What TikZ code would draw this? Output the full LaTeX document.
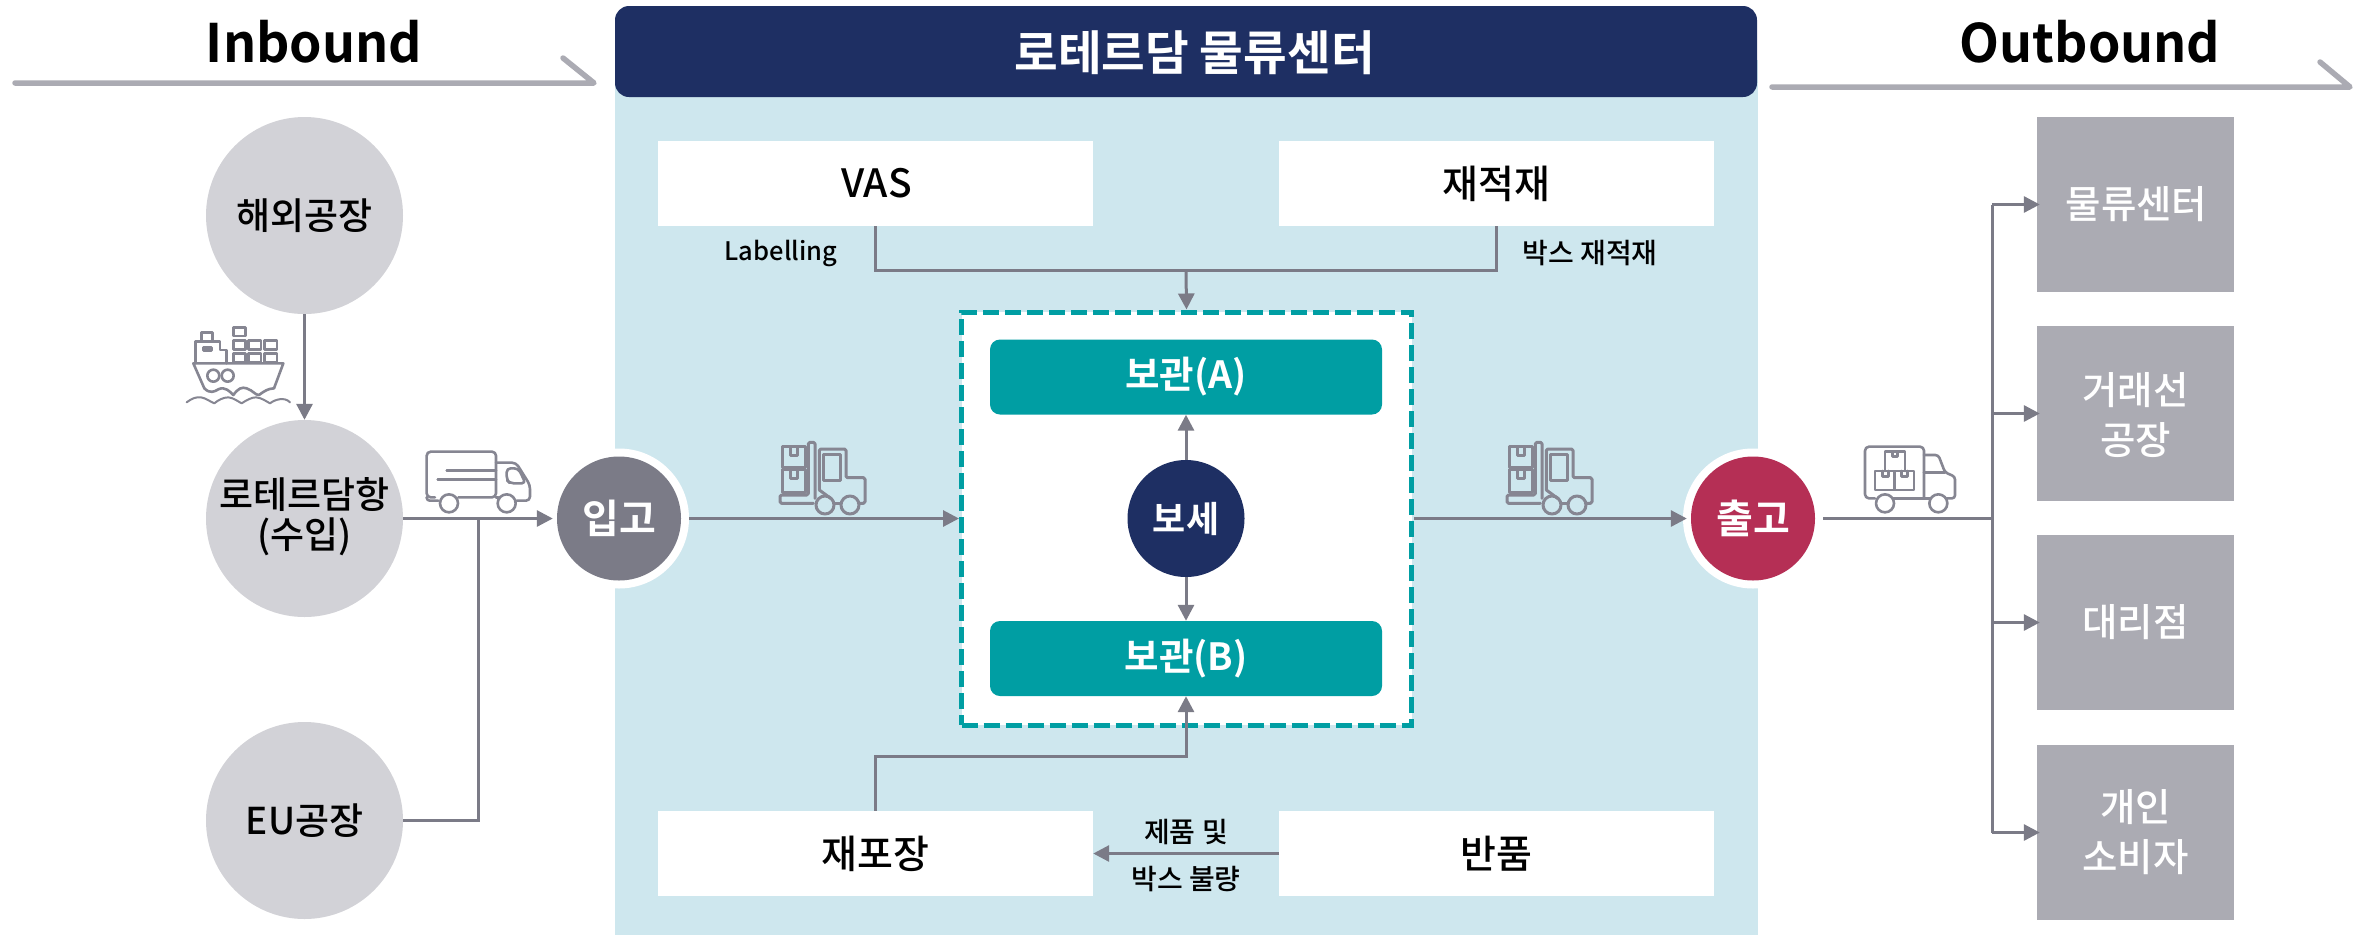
\documentclass[tikz,border=0pt]{standalone}
\usepackage{fontspec}
\setmainfont{Noto Sans CJK KR Medium}[BoldFont={Noto Sans CJK KR Bold}]
\newfontfamily\headfont{Noto Sans CJK KR Bold}[FakeStretch=0.98]
\usetikzlibrary{arrows.meta}
\definecolor{lineg}{HTML}{7B7B87}
\definecolor{icong}{HTML}{868692}
\definecolor{headg}{HTML}{ABABB3}
\definecolor{circg}{HTML}{D2D2D7}
\definecolor{navy}{HTML}{1E2F63}
\definecolor{sky}{HTML}{CEE7EE}
\definecolor{teal2}{HTML}{009EA3}
\definecolor{crim}{HTML}{B52F55}
\newcommand{\fs}[1]{\fontsize{#1}{#1}\selectfont}
% #1 = extra height declared above the text (moves it down by half), #2 = extra line gap
\newcommand{\twolines}[4]{\raisebox{0pt}[\dimexpr\height+#1\relax][\depth]{\begin{tabular}{@{}c@{}}#3\\[#2]#4\end{tabular}}}
\newcommand{\forkicon}{%
  \draw (38,35) rectangle (105,98);
  \draw (60,35)--(60,60)--(82,60)--(82,35);
  \draw (38,102) rectangle (105,172);
  \draw (60,102)--(60,130)--(82,130)--(82,102);
  \draw[rounded corners=1.5pt] (135,190)--(135,22)--(115,22)--(115,180)--(30,180)--(30,205)--(130,205);
  \draw[rounded corners=1.5pt] (148,165)--(148,42)--(228,42)--(228,128)--(285,128)--(285,205)--(265,205);
  \draw (160,58) rectangle (212,135);
  \draw (148,165)--(182,190);
  \draw (192,205)--(213,205);
  \draw (165,210) circle[radius=27];
  \draw (240,210) circle[radius=27];
}
\tikzset{
  x=1pt,y=-1pt,
  conn/.style={draw=lineg,line width=3pt},
  arr/.style={conn,-{Triangle[length=16pt,width=16pt]}},
  headline/.style={draw=headg,line width=5.5pt,line cap=round,line join=round},
  bigt/.style={inner sep=0pt,font=\headfont\fs{53}},
  src/.style={circle,fill=circg,minimum size=197pt,inner sep=0pt,align=center,font=\fs{37}},
  ring/.style={circle,fill=white,minimum size=140pt,inner sep=0pt},
  hub/.style={circle,minimum size=124pt,inner sep=0pt,text=white,font=\bfseries\fs{40}},
  wbox/.style={fill=white,minimum width=435pt,minimum height=85pt,inner sep=0pt,font=\fs{39}},
  store/.style={fill=teal2,rounded corners=10pt,minimum width=392pt,minimum height=75pt,inner sep=0pt,text=white,font=\bfseries\fs{37.5}},
  dest/.style={fill=headg,minimum width=197pt,minimum height=175pt,inner sep=0pt,text=white,align=center,font=\fs{38.5}},
  small/.style={inner sep=0pt,font=\fs{28}},
  iconl/.style={draw=icong,line width=2.6pt,line join=round,line cap=round},
}
\begin{document}
\begin{tikzpicture}
\useasboundingbox (0,0) rectangle (2374,935);
\fill[white] (0,0) rectangle (2374,935);
% centre panel
\fill[sky] (615,60) rectangle (1758,935);
\node[fill=navy,rounded corners=14pt,minimum width=1142pt,minimum height=91pt,inner sep=0pt] (title) at (1186,51.5) {};
\node[inner sep=0pt,text=white,font=\bfseries\fs{47.5}] (titlet) at (1194.5,53) {로테르담 물류센터};
% headers
\node[bigt] (inb) at (314,42) {Inbound};
\node[bigt] (outb) at (2090,42) {Outbound};
\coordinate (ia) at (15,83); \coordinate (ib) at (594,83); \coordinate (ic) at (563,58);
\draw[headline] (ia)--(ib)--(ic);
\coordinate (oa) at (1772,87); \coordinate (ob) at (2350,87); \coordinate (oc) at (2320,62);
\draw[headline] (oa)--(ob)--(oc);
% sources
\node[src] (fact) at (304.5,215.5) {해외공장};
\node[src] (port) at (304.5,518.5) {\twolines{0pt}{-2pt}{로테르담항}{(수입)}};
\node[src] (eu) at (304.5,820.5) {EU공장};
% hubs
\node[ring] (inr) at (619,518.5) {};
\node[ring] (outr) at (1753,518.5) {};
\node[hub,fill=lineg] (in) at (619,518.5) {입고};
\node[hub,fill=crim] (out) at (1753,518.5) {출고};
% white boxes
\node[wbox] (vas) at (875.5,183.5) {\hspace{2pt}VAS};
\node[wbox] (rew) at (1496.5,183.5) {재적재};
\node[wbox] (rep) at (875.5,853.5) {재포장};
\node[wbox] (ret) at (1496.5,853.5) {반품};
\node[small,font=\fs{25.5}] (lab) at (781,253) {Labelling};
\node[small] (box) at (1590,253) {박스 재적재};
\node[small] (d1) at (1186,832) {제품 및};
\node[small] (d2) at (1186,879) {박스 불량};
% storage
\node[draw=teal2,fill=white,line width=5pt,dash pattern=on 16pt off 6pt,minimum width=450pt,minimum height=413pt,inner sep=0pt] (zone) at (1186.5,518.5) {};
\node[store] (sa) at (1186,377) {보관(A)};
\node[store] (sb) at (1186,658.5) {보관(B)};
\node[hub,fill=navy,minimum size=117pt,font=\bfseries\fs{36}] (bond) at (1186,518.5) {보세};
% destinations
\node[dest] (d-a) at (2135.5,204.5) {\hspace{2pt}물류센터};
\node[dest] (d-b) at (2135.5,413.5) {\twolines{12pt}{6pt}{거래선}{공장}};
\node[dest] (d-c) at (2135.5,622.5) {대리점};
\node[dest] (d-d) at (2135.5,832.5) {\twolines{8pt}{6pt}{개인}{소비자}};
% connectors
\draw[arr] (fact.south)--(port.north);
\draw[arr,shorten >=4pt] (port.east)--(in.west);
\coordinate (j1) at (478.5,518.5);
\draw[conn] (eu.east)-|(j1);
\draw[arr] (inr.east)--(zone.west);
\draw[arr] (bond.north)--(sa.south);
\draw[arr] (bond.south)--(sb.north);
\draw[arr,shorten >=4pt] (zone.east)--(out.west);
\coordinate (j2) at (1992,518.5);
\draw[conn] (outr.east)--(j2);
\draw[conn] (j2 |- d-a.west)--(j2 |- d-d.west);
\draw[arr,shorten >=-3pt] (j2 |- d-a.west)--(d-a.west);
\draw[arr,shorten >=-3pt] (j2 |- d-b.west)--(d-b.west);
\draw[arr,shorten >=-3pt] (j2 |- d-c.west)--(d-c.west);
\draw[arr,shorten >=-3pt] (j2 |- d-d.west)--(d-d.west);
\coordinate (t1) at (1186,270);
\draw[conn] (vas.south)|-(t1);
\draw[conn] (rew.south)|-(t1);
\draw[arr] (t1)--(zone.north);
\coordinate (b1) at (875.5,756);
\draw[arr] (rep.north)--(b1)-|(sb.south);
\draw[arr] (ret.west)--(rep.east);
% ship
\begin{scope}[shift={(175,320)},scale=1/3]
\begin{scope}[iconl]
\draw (55,130)--(325,130)--(297,205);
\draw (55,130)--(88,205);
\draw (88,205) .. controls (105,222) and (118,215) .. (130,208) .. controls (150,198) and (165,215) .. (175,225) .. controls (190,205) and (200,200) .. (215,205) .. controls (235,212) and (240,225) .. (252,225) .. controls (265,215) and (280,205) .. (297,205);
\draw[line width=2pt] (35,247) .. controls (50,235) and (65,230) .. (78,232) .. controls (95,235) and (105,245) .. (118,250) .. controls (130,240) and (145,232) .. (160,232) .. controls (175,233) and (190,245) .. (200,250) .. controls (215,240) and (230,232) .. (243,232) .. controls (260,233) and (275,245) .. (285,250) .. controls (300,238) and (330,230) .. (345,247);
\draw (115,167) circle[radius=18];
\draw (158,167) circle[radius=18];
\draw (62,130)--(62,65)--(135,65)--(135,90)--(155,90)--(155,130);
\draw (80,38) rectangle (112,65);
\draw (85,82) rectangle (110,92);
\draw (175,22) rectangle (212,48);
\foreach \a/\b in {175/212,220/258,268/306}{
  \draw (\a,62) rectangle (\b,88);
  \draw (\a,100) rectangle (\b,128);
}
\end{scope}
\end{scope}
% truck
\begin{scope}[shift={(415,440)},scale=1/3]
\begin{scope}[iconl]
\draw[rounded corners=4pt] (60,172)--(35,172)--(35,35)--(243,35)--(243,172)--(130,172);
\draw[rounded corners=3pt] (70,182)--(35,182)--(35,172);
\draw (243,172)--(250,172);
\draw[rounded corners=4pt] (243,68)--(303,68)--(345,135)--(345,182)--(305,182);
\draw[rounded corners=4pt] (275,85)--(310,85)--(332,130)--(285,130)--(275,120)--cycle;
\draw (95,92)--(243,92);
\draw (68,118)--(243,118);
\draw (102,190) circle[radius=27];
\draw (275,190) circle[radius=27];
\end{scope}
\end{scope}
% forklifts
\begin{scope}[shift={(770,435)},scale=1/3]
\begin{scope}[iconl,line width=3pt]\forkicon\end{scope}
\end{scope}
\begin{scope}[shift={(1497,435)},scale=1/3]
\begin{scope}[iconl,line width=3pt]\forkicon\end{scope}
\end{scope}
% delivery truck
\begin{scope}[shift={(1855,435)},scale=1/3]
\begin{scope}[iconl]
\draw[rounded corners=4pt] (60,190)--(30,190)--(30,35)--(207,35)--(207,190);
\draw (115,190)--(225,190);
\draw[rounded corners=3pt] (207,60)--(250,60)--(270,112)--(300,125)--(300,190)--(275,190);
\draw (207,112)--(270,112);
\draw (90,108)--(90,50)--(150,50)--(150,108);
\draw (112,50)--(112,65)--(128,65)--(128,50);
\draw (60,108) rectangle (118,165);
\draw (82,108)--(82,125)--(100,125)--(100,108);
\draw (118,108) rectangle (177,165);
\draw (140,108)--(140,125)--(158,125)--(158,108);
\draw (90,205) circle[radius=27];
\draw (250,205) circle[radius=27];
\end{scope}
\end{scope}
\end{tikzpicture}
\end{document}
